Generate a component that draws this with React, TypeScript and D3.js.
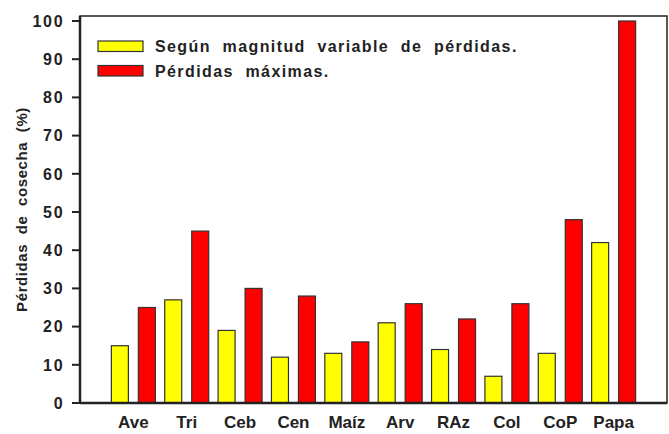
import React from "react";
import * as d3 from "d3";

const categories = ["Ave", "Tri", "Ceb", "Cen", "Maíz", "Arv", "RAz", "Col", "CoP", "Papa"];
const magnitudVariable = [15, 27, 19, 12, 13, 21, 14, 7, 13, 42];
const perdidasMaximas = [25, 45, 30, 28, 16, 26, 22, 26, 48, 100];
const seriesNames = ["Según  magnitud  variable  de  pérdidas.", "Pérdidas  máximas."];
const seriesColors = ["#ffff00", "#ff0000"];
const yTicks = [0, 10, 20, 30, 40, 50, 60, 70, 80, 90, 100];

const width = 669;
const height = 434;
const left = 80;
const right = 667;
const top = 16;
const bottom = 403;
const font = "'Liberation Sans', Arial, sans-serif";

const App = () => {
  const x = d3.scaleLinear().domain([0, categories.length + 1]).range([left, right]);
  const y = d3.scaleLinear().domain([0, 100]).range([bottom, 21]);
  const inner = d3.scaleBand().domain(["a", "b"]).range([-22, 22]).paddingInner(0.37);
  const series = [magnitudVariable, perdidasMaximas];

  return (
    <svg width={width} height={height} style={{ position: "absolute", left: 0, top: 0, background: "#fff" }}>
      {/* bars */}
      {categories.map((c, i) =>
        series.map((vals, s) => (
          <rect
            key={c + s}
            x={x(i + 1) + inner(s ? "b" : "a")}
            y={y(vals[i])}
            width={inner.bandwidth()}
            height={y(0) - y(vals[i])}
            fill={seriesColors[s]}
            stroke="#333"
            strokeWidth={1.2}
          />
        ))
      )}

      {/* frame */}
      <rect x={left} y={top} width={right - left} height={bottom - top} fill="none" stroke="#222" strokeWidth={1.5} />
      <line x1={left} x2={right} y1={bottom} y2={bottom} stroke="#222" strokeWidth={2.5} />
      <line x1={left} x2={left} y1={top} y2={bottom} stroke="#222" strokeWidth={2.5} />

      {/* y ticks */}
      {yTicks.map((t) => (
        <g key={t}>
          <line x1={left - 8} x2={left} y1={y(t)} y2={y(t)} stroke="#222" strokeWidth={2} />
          <text
            x={64.5}
            y={y(t)}
            dy="0.36em"
            textAnchor="end"
            fontFamily={font}
            fontWeight="bold"
            fontSize={16}
            letterSpacing={1.8}
            fill="#222"
          >
            {t}
          </text>
        </g>
      ))}

      <text
        transform={`translate(27,${(top + bottom) / 2}) rotate(-90)`}
        textAnchor="middle"
        fontFamily={font}
        fontWeight="bold"
        fontSize={15}
        letterSpacing={0.6}
        fill="#222"
        style={{ whiteSpace: "pre" }}
      >
        Pérdidas  de  cosecha  (%)
      </text>

      {/* x labels */}
      {categories.map((c, i) => (
        <text
          key={c}
          x={x(i + 1)}
          y={428}
          textAnchor="middle"
          fontFamily={font}
          fontWeight="bold"
          fontSize={17}
          fill="#222"
        >
          {c}
        </text>
      ))}

      {/* legend */}
      {seriesNames.map((n, s) => (
        <g key={n} transform={`translate(98,${41 + s * 24.5})`}>
          <rect width={45} height={10.5} fill={seriesColors[s]} stroke="#333" strokeWidth={1.2} />
          <text
            x={57}
            y={5.5}
            dy="0.36em"
            fontFamily={font}
            fontWeight="bold"
            fontSize={16}
            letterSpacing={1.4}
            fill="#222"
            style={{ whiteSpace: "pre" }}
          >
            {n}
          </text>
        </g>
      ))}
    </svg>
  );
};

export default App;
